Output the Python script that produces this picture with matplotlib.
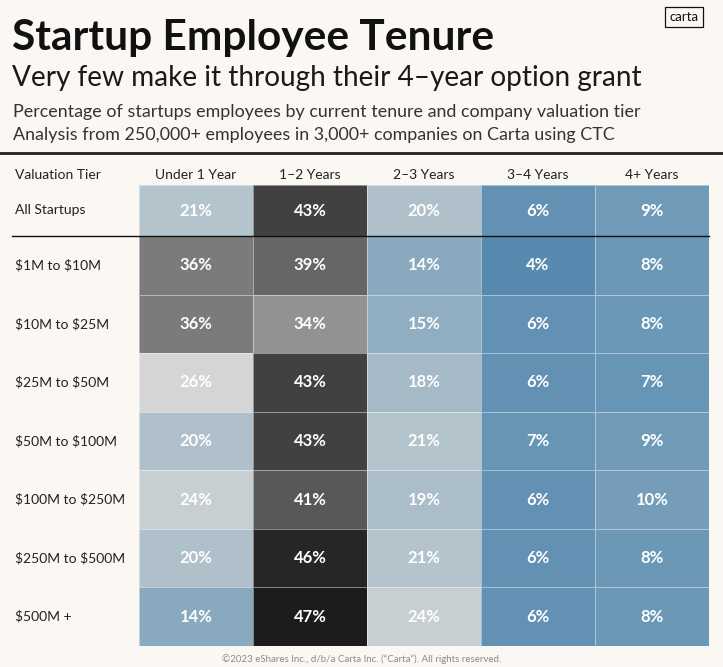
import numpy as np
import matplotlib
matplotlib.use("Agg")
import matplotlib.pyplot as plt
from matplotlib.colors import LinearSegmentedColormap, Normalize
from matplotlib.lines import Line2D

# data
tiers = ["All Startups", r"\$1M to \$10M", r"\$10M to \$25M", r"\$25M to \$50M",
         r"\$50M to \$100M", r"\$100M to \$250M", r"\$250M to \$500M", r"\$500M +"]
tenure = ["Under 1 Year", "1\u20132 Years", "2\u20133 Years", "3\u20134 Years", "4+ Years"]
under_1 = [21, 36, 36, 26, 20, 24, 20, 14]
y1_2 = [43, 39, 34, 43, 43, 41, 46, 47]
y2_3 = [20, 14, 15, 18, 21, 19, 21, 24]
y3_4 = [6, 4, 6, 6, 7, 6, 6, 6]
y4_plus = [9, 8, 8, 7, 9, 10, 8, 8]

vals = np.array([under_1, y1_2, y2_3, y3_4, y4_plus]).T

# colour ramp: blue for small shares, grey in the middle, black for large
ramp = [(4, "#5889ae"), (6, "#6392b3"), (8, "#6b98b7"), (14, "#89a9bf"),
        (18, "#a5b9c7"), (21, "#b4c4cd"), (24, "#c8cfd3"), (26, "#d3d5d6"),
        (34, "#929292"), (36, "#7b7b7b"), (39, "#666666"), (41, "#595959"),
        (43, "#424242"), (46, "#282828"), (47, "#1c1c1c")]
lo, hi = ramp[0][0], ramp[-1][0]
cmap = LinearSegmentedColormap.from_list(
    "tenure", [((v - lo) / (hi - lo), c) for v, c in ramp])

plt.rcParams["font.family"] = ["Lato", "DejaVu Sans"]
BG = "#fbf8f3"
W, H = 723, 667
fig = plt.figure(figsize=(W / 100, H / 100), dpi=100, facecolor=BG)

def fx(x):
    return x / W

def fy(y):
    return 1 - y / H

# titles
fig.text(fx(12), fy(50), "Startup Employee Tenure", fontsize=30.5, fontweight="bold",
         color="#111111", va="baseline")
fig.text(fx(12), fy(86), "Very few make it through their 4\u2013year option grant",
         fontsize=20.2, color="#1a1a1a", va="baseline")
fig.text(fx(13), fy(117), "Percentage of startups employees by current tenure and company valuation tier",
         fontsize=12.9, color="#333333", va="baseline")
fig.text(fx(13), fy(140), "Analysis from 250,000+ employees in 3,000+ companies on Carta using CTC",
         fontsize=12.9, color="#333333", va="baseline")
fig.text(fx(684), fy(17), "carta", fontsize=9.5, color="#111111", ha="center", va="center",
         bbox=dict(boxstyle="square,pad=0.3", fc=BG, ec="#111111", lw=0.9))

fig.add_artist(Line2D([0, 1], [fy(153), fy(153)], transform=fig.transFigure,
                      color="#222222", lw=2))

# grid
gx0, gx1, gy0, gy1 = 139, 709, 185, 646
ax = fig.add_axes([fx(gx0), fy(gy1), fx(gx1 - gx0), (gy1 - gy0) / H])
first_h = 51
row_h = (gy1 - gy0 - first_h) / (len(tiers) - 1)
y_edges = np.concatenate([[0], first_h + row_h * np.arange(len(tiers))])
x_edges = np.arange(len(tenure) + 1)
ax.pcolormesh(x_edges, y_edges, vals, cmap=cmap, norm=Normalize(lo, hi),
              edgecolors=(1, 1, 1, 0.45), linewidth=0.6)
ax.set_xlim(0, len(tenure))
ax.set_ylim(y_edges[-1], 0)
ax.axis("off")

yc = (y_edges[:-1] + y_edges[1:]) / 2
for i in range(len(tiers)):
    for j in range(len(tenure)):
        ax.text(j + 0.5, yc[i], f"{vals[i, j]}%", ha="center", va="center",
                color="white", fontsize=12, fontweight="bold")

# column headers and row labels
for j, name in enumerate(tenure):
    fig.text(fx(gx0 + (j + 0.5) * (gx1 - gx0) / len(tenure)), fy(175), name,
             ha="center", va="center", fontsize=10, color="#222222")
fig.text(fx(15), fy(175), "Valuation Tier", va="center", fontsize=10, color="#222222")
for i, name in enumerate(tiers):
    fig.text(fx(15), fy(gy0 + yc[i]), name, va="center", fontsize=10, color="#222222")

fig.add_artist(Line2D([fx(12), fx(709)], [fy(gy0 + first_h)] * 2,
                      transform=fig.transFigure, color="#111111", lw=1))

fig.text(0.5, fy(659), "\u00a92023 eShares Inc., d/b/a Carta Inc. (\u201cCarta\u201d). All rights reserved.",
         ha="center", va="center", fontsize=7, color="#8a8a8a")

fig.savefig("out.png", dpi=100, facecolor=BG)
